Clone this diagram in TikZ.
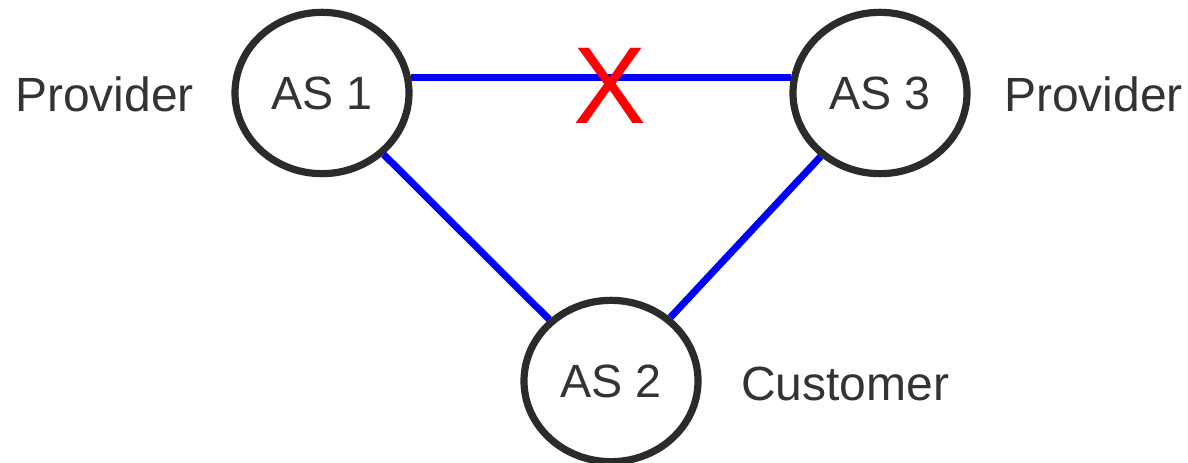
\documentclass[tikz,border=0pt]{standalone}
\usepackage{fontspec}
\setmainfont{Liberation Sans}
\usetikzlibrary{shapes.geometric,backgrounds}
\definecolor{ring}{HTML}{2B2B2B}
\definecolor{txt}{HTML}{333333}
\begin{document}
\begin{tikzpicture}[x=0.75pt,y=-0.75pt,
  asnode/.style={ellipse,draw=ring,line width=5.4pt,fill=white,minimum width=130.5pt,minimum height=121pt,inner sep=0pt,text=txt,font=\fontsize{35}{40}\selectfont},
  label/.style={text=txt,font=\fontsize{36}{40}\selectfont,inner sep=0pt},
  link/.style={draw=blue,line width=5.3pt}]
\useasboundingbox (0,0) rectangle (1188,463);
\node[asnode] (as1) at (322,93) {AS 1};
\node[asnode] (as3) at (880,93) {AS 3};
\node[asnode] (as2) at (611,381) {AS 2};
\node[label,anchor=base west] (p1) at (15,112) {Provider};
\node[label,anchor=base east] (p3) at (1183,112) {Provider};
\node[label,anchor=base west] (cu) at (741,400) {Customer};
\node[text=red,inner sep=0pt,font=\fontsize{82}{90}\selectfont] (x) at (610,86) {X};
\begin{scope}[on background layer]
\draw[link] (as1.10) -- (as3.170);
\draw[link] (as1) -- (as2);
\draw[link] (as3) -- (as2);
\end{scope}
\end{tikzpicture}
\end{document}
